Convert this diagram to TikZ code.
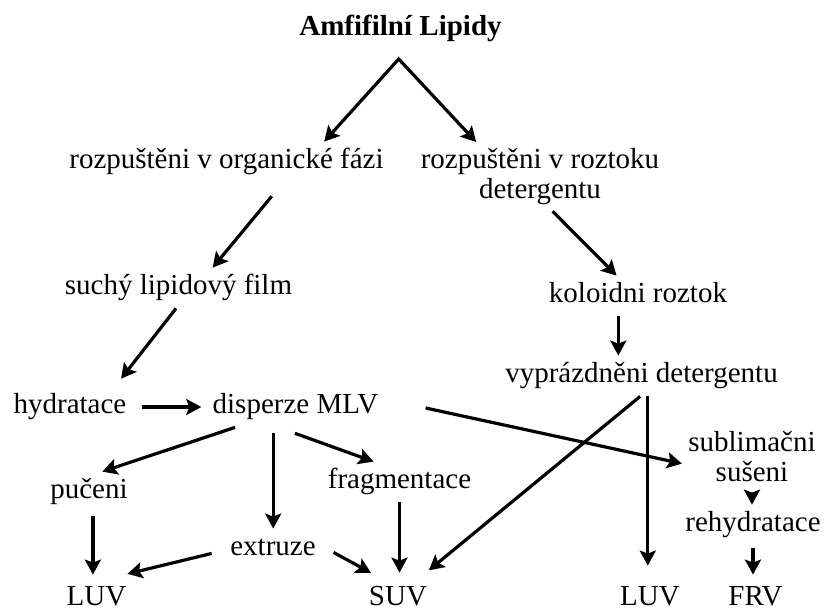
\documentclass[tikz,border=0pt]{standalone}
\usepackage{fontspec}
\setmainfont{Liberation Serif}
\usetikzlibrary{arrows.meta,calc}
\newlength{\du}
\setlength{\du}{10\unitlength}

\begin{document}
\begin{tikzpicture}[
  >={Stealth[length=7.5pt,width=8pt,inset=1.5pt]},
  lbl/.style={inner sep=0pt,anchor=base,text height=13pt,text depth=7pt,font=\fontsize{14.5}{15}\selectfont},
  lbltwo/.style={inner sep=3pt,anchor=north,align=center,font=\fontsize{14.5}{15}\selectfont},
  arr/.style={->,line width=0.160000\du}
]
\pgftransformxscale{1.000000}
\pgftransformyscale{-1.000000}
\definecolor{dialinecolor}{rgb}{0.000000, 0.000000, 0.000000}
\pgfsetstrokecolor{dialinecolor}
\pgfsetfillcolor{dialinecolor}
\useasboundingbox[fill=white] (0\du,0\du) rectangle (41.350000\du,30.600000\du);
% labels
\node[lbl,font=\fontsize{14.5}{15}\selectfont\bfseries] (title) at (20.025000\du,1.750000\du){Amfifilní Lipidy};
\coordinate (apex) at (19.935000\du,2.950000\du);
\node[lbl] (org) at (11.325000\du,8.400000\du){rozpuštěni v organické fázi};
\node[lbltwo] (rozt) at (27.000000\du,7.100000\du){rozpuštěni v roztoku\\detergentu};
\node[lbl] (dry) at (8.925000\du,14.700000\du){suchý lipidový film};
\node[lbl] (koll) at (31.900000\du,15.100000\du){koloidni roztok};
\node[lbl] (empt) at (32.075000\du,19.100000\du){vyprázdněni detergentu};
\node[lbl] (hydr) at (3.500000\du,20.650000\du){hydratace};
\node[lbl] (disp) at (14.775000\du,20.650000\du){disperze MLV};
\node[lbltwo] (subl) at (37.600000\du,21.250000\du){sublimačni\\sušeni};
\node[lbl] (puc) at (4.450000\du,24.900000\du){pučeni};
\node[lbl] (frag) at (19.975000\du,24.400000\du){fragmentace};
\node[lbl] (extr) at (13.650000\du,27.750000\du){extruze};
\node[lbl] (rehyd) at (37.650000\du,26.550000\du){rehydratace};
% bottom row
\node[lbl,text depth=3pt] (luvA) at (4.825000\du,30.250000\du){LUV};
\node[lbl,text depth=3pt] (suv) at (19.900000\du,30.250000\du){SUV};
\node[lbl,text depth=3pt] (luvB) at (32.500000\du,30.250000\du){LUV};
\node[lbl,text depth=3pt] (frv) at (37.775000\du,30.250000\du){FRV};
% arrows
\draw[arr,<->] ($(org.north west)!0.81!(org.north east)$)--(apex)--($(rozt.north west)!0.246!(rozt.north east)$);
\draw[arr,shorten <=9pt] ($(org.south west)!0.68!(org.south east)$)--($(dry.north west)!0.65!(dry.north east)$);
\draw[arr] ($(rozt.south west)!0.55!(rozt.south east)$)--($(koll.north west)!0.38!(koll.north east)$);
\draw[arr] ($(koll.south west)!0.39!(koll.south east)$) coordinate (k1)--(k1 |- empt.north);
\draw[arr,shorten >=5pt] ($(dry.south west)!0.489!(dry.south east)$)--($(hydr.north west)!0.896!(hydr.north east)$);
\draw[arr,shorten <=7.5pt,shorten >=5.5pt] (hydr.east)--(disp.west);
\draw[arr,shorten <=24pt] ($(disp.north east)!0.275!(disp.south east)$)--($(subl.north west)!0.61!(subl.south west)$);
\draw[arr,shorten >=6.5pt] ($(empt.south west)!0.495!(empt.south east)$)--($(suv.north west)!0.853!(suv.north east)$);
\draw[arr,shorten >=6.5pt] ($(empt.south west)!0.523!(empt.south east)$) coordinate (e1)--(e1 |- luvB.north);
\draw[arr] ($(disp.south west)!0.137!(disp.south east)$)--($(puc.north west)!0.67!(puc.north east)$);
\draw[arr,shorten <=3pt] ($(disp.south west)!0.366!(disp.south east)$) coordinate (d1)--(d1 |- extr.north);
\draw[arr,shorten <=8.7pt] ($(disp.south west)!0.398!(disp.south east)$)--($(frag.north west)!0.32!(frag.north east)$);
\draw[arr,shorten <=2pt,shorten >=2pt] ($(puc.south west)!0.55!(puc.south east)$) coordinate (p1)--(p1 |- luvA.north);
\draw[arr,shorten >=3pt] (frag.south)--(frag.south |- suv.north);
\draw[arr,shorten <=9.4pt,shorten >=10pt] (extr.west)--($(luvA.north west)!0.69!(luvA.north east)$);
\draw[arr,shorten <=10pt,shorten >=6pt] ($(extr.north east)!0.35!(extr.south east)$)--($(suv.north west)!0.22!(suv.north east)$);
\draw[arr,shorten <=3.5pt] (subl.south)--(subl.south |- rehyd.north);
\draw[arr,shorten <=1.5pt,shorten >=2pt] (rehyd.south)--(rehyd.south |- frv.north);
\end{tikzpicture}
\end{document}
